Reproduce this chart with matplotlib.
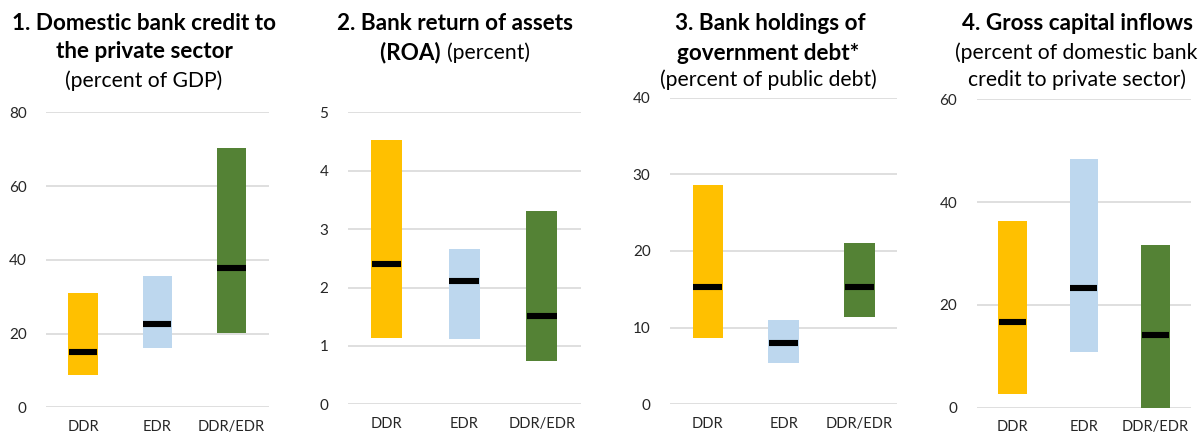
import matplotlib
matplotlib.use("Agg")
import matplotlib.pyplot as plt
import numpy as np

categories = ["DDR", "EDR", "DDR/EDR"]
colors = ["#FFC000", "#BDD7EE", "#548235"]

# panel data: low, high, median
p1_low = [8.8, 16.2, 20.1]
p1_high = [30.9, 35.6, 70.3]
p1_med = [14.9, 22.6, 37.7]

p2_low = [1.13, 1.12, 0.75]
p2_high = [4.53, 2.66, 3.31]
p2_med = [2.40, 2.11, 1.51]

p3_low = [8.7, 5.4, 11.4]
p3_high = [28.6, 11.0, 21.1]
p3_med = [15.35, 8.0, 15.35]

p4_low = [2.7, 10.9, 0.0]
p4_high = [36.4, 48.4, 31.6]
p4_med = [16.6, 23.2, 14.1]

y_ticks = [[0, 20, 40, 60, 80], [0, 1, 2, 3, 4, 5], [0, 10, 20, 30, 40], [0, 20, 40, 60]]

W, H = 1202, 434
fig = plt.figure(figsize=(W / 100, H / 100), dpi=100)
FONT = "Lato"
plt.rcParams["font.family"] = [FONT, "DejaVu Sans"]

# axes boxes in pixels: left, right, top, bottom
boxes = [(46, 268.7, 112.3, 407.3),
         (347.7, 580.7, 112.3, 404.3),
         (670, 897.3, 97.7, 404.3),
         (976.7, 1191, 99.3, 407.7)]
data = [(p1_low, p1_high, p1_med), (p2_low, p2_high, p2_med),
        (p3_low, p3_high, p3_med), (p4_low, p4_high, p4_med)]

bw = 0.40
for (l, r, t, b), (lo, hi, md), ticks in zip(boxes, data, y_ticks):
    ax = fig.add_axes([l / W, 1 - b / H, (r - l) / W, (b - t) / H])
    x = np.arange(len(categories))
    lo = np.array(lo); hi = np.array(hi); md = np.array(md)
    ax.bar(x, hi - lo, bottom=lo, width=bw, color=colors, zorder=2)
    ax.hlines(md, x - bw / 2 + 0.01, x + bw / 2 - 0.01, colors="black", linewidth=4.4, zorder=3)
    ax.set_xlim(-0.5, 2.5)
    ax.set_ylim(ticks[0], ticks[-1])
    ax.set_yticks(ticks)
    ax.set_xticks(x)
    ax.set_xticklabels(categories)
    ax.grid(axis="y", color="#D9D9D9", linewidth=1.2, zorder=0)
    ax.set_axisbelow(True)
    for s in ax.spines.values():
        s.set_visible(False)
    ax.tick_params(axis="y", length=0, pad=14, labelsize=11, labelcolor="#262626")
    ax.tick_params(axis="x", length=0, pad=9, labelsize=10.5, labelcolor="#262626")

TS = 16.2
SS = 15.2
def ftxt(x, y, s, bold=False, size=None):
    return fig.text(x / W, 1 - y / H, s, ha="center", va="center",
                    fontsize=size or (TS if bold else SS),
                    fontweight="bold" if bold else "normal", color="black")

ftxt(144, 23, "1. Domestic bank credit to", True)
ftxt(144, 52, "the private sector", True)
ftxt(144, 81, "(percent of GDP)")

ftxt(455, 23, "2. Bank return of assets", True)
# mixed line
fig.canvas.draw()
r = fig.canvas.get_renderer()
tb = fig.text(0, 1 - 53 / H, "(ROA) ", fontsize=TS, fontweight="bold", va="center", ha="left")
tr = fig.text(0, 1 - 53 / H, "(percent)", fontsize=SS, va="center", ha="left")
wb = tb.get_window_extent(r).width
wr = tr.get_window_extent(r).width
x0 = 455 - (wb + wr) / 2
tb.set_x(x0 / W)
tr.set_x((x0 + wb) / W)

ftxt(770, 23, "3. Bank holdings of", True)
ftxt(768, 53, "government debt*", True)
ftxt(768, 80, "(percent of public debt)")

ftxt(1077, 23, "4. Gross capital inflows", True)
ftxt(1076, 53, "(percent of domestic bank")
ftxt(1077, 80, "credit to private sector)")

fig.savefig("out.png", dpi=100)
